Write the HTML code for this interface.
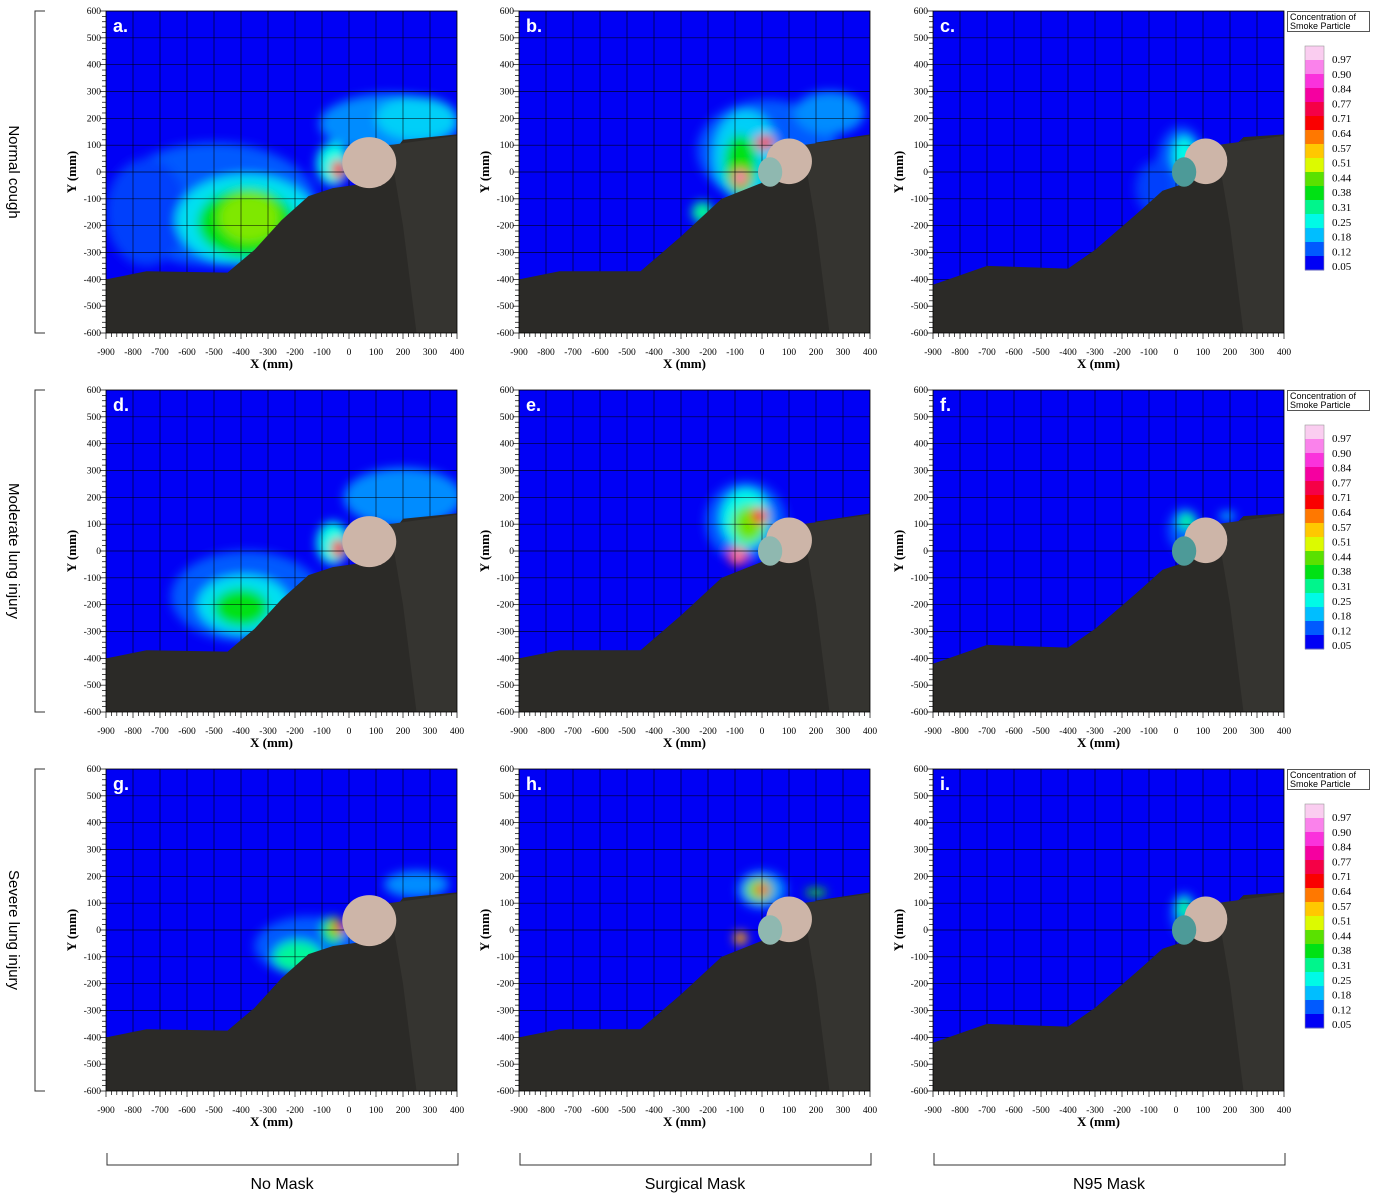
<!DOCTYPE html>
<html><head><meta charset="utf-8"><style>
body{margin:0;background:#fff;width:1377px;height:1199px;overflow:hidden}
svg{display:block}
</style></head><body>
<svg id="fig" width="1377" height="1199" xmlns="http://www.w3.org/2000/svg">
<defs>
<filter id="blur" x="-50%" y="-50%" width="200%" height="200%"><feGaussianBlur stdDeviation="5"/></filter>
</defs>
</svg>
<script>
// ---- data ----
const xTicks=[-900,-800,-700,-600,-500,-400,-300,-200,-100,0,100,200,300,400];
const yTicks=[-600,-500,-400,-300,-200,-100,0,100,200,300,400,500,600];
const cbLabels=["0.97","0.90","0.84","0.77","0.71","0.64","0.57","0.51","0.44","0.38","0.31","0.25","0.18","0.12","0.05"];
const rowLabels=["Normal cough","Moderate lung injury","Severe lung injury"];
const colLabels=["No Mask","Surgical Mask","N95 Mask"];
const panelLetters=["a.","b.","c.","d.","e.","f.","g.","h.","i."];
// plume blobs per panel: [x mm, y mm, rx mm, ry mm, concentration]
const plumeA=[[-500,-120,380,230,0.12],[-750,-150,150,200,0.1],[150,180,260,110,0.15],[-380,-180,260,170,0.22],[250,200,150,80,0.2],[-380,-190,180,130,0.38],[-370,-170,110,90,0.46],[-60,30,60,80,0.25],[-40,10,25,35,0.75]];
const plumeB=[[20,80,260,190,0.12],[-60,60,120,170,0.2],[250,220,130,80,0.15],[-80,30,60,110,0.38],[-220,-150,40,40,0.3],[-80,-20,30,35,0.75],[10,110,35,25,0.75],[-80,-20,15,18,0.99]];
const plumeC=[[20,20,90,150,0.12],[-80,-60,70,100,0.1],[30,60,40,70,0.25]];
const plumeD=[[-380,-170,280,170,0.12],[200,200,220,110,0.15],[-390,-200,170,110,0.22],[-400,-210,100,70,0.38],[-60,30,60,80,0.25],[-40,10,25,35,0.75]];
const plumeE=[[-60,110,150,150,0.12],[-60,120,90,110,0.25],[-50,100,60,70,0.45],[-10,130,30,30,0.75],[-90,-20,35,35,0.75],[-90,-20,15,15,0.99]];
const plumeF=[[30,80,60,80,0.12],[40,110,30,30,0.3],[190,130,30,15,0.2]];
const plumeG=[[-150,-60,200,110,0.12],[250,170,120,50,0.15],[-190,-100,90,60,0.3],[-60,0,40,50,0.35],[-40,10,20,25,0.7]];
const plumeH=[[0,150,90,70,0.15],[-10,150,50,45,0.45],[0,150,25,22,0.8],[-80,-30,25,25,0.6],[200,140,40,15,0.4]];
const plumeI=[[30,60,50,80,0.12],[30,80,25,40,0.3]];
const plumes=[plumeA,plumeB,plumeC,plumeD,plumeE,plumeF,plumeG,plumeH,plumeI];
// body outlines (mm)
const bodyNoMask=[[-900,-400],[-750,-370],[-450,-375],[-350,-290],[-250,-180],[-150,-90],[-60,-60],[80,-40],[200,120],[400,140],[400,-600],[-900,-600]];
const bodySurgical=[[-900,-400],[-750,-370],[-450,-370],[-300,-240],[-150,-100],[-50,-60],[100,0],[200,110],[400,140],[400,-600],[-900,-600]];
const bodyN95=[[-900,-420],[-700,-350],[-400,-360],[-300,-290],[-150,-160],[-50,-70],[100,-20],[250,130],[400,140],[400,-600],[-900,-600]];
const bodies=[bodyNoMask,bodySurgical,bodyN95];
// head [cx, cy, rx, ry] mm per column
const heads=[[75,35,100,95],[100,40,85,85],[110,40,80,85]];
// ---- layout ----
const colX=[106,519,933], rowY=[11,390,769], PW=351, PH=322;
const NS='http://www.w3.org/2000/svg';
const svg=document.getElementById('fig');
function el(tag,attrs,parent){const e=document.createElementNS(NS,tag);for(const k in attrs)e.setAttribute(k,attrs[k]);(parent||svg).appendChild(e);return e;}
const cmap=[[0.05,[0,0,245]],[0.12,[0,90,255]],[0.18,[0,190,255]],[0.25,[0,250,230]],[0.31,[0,245,140]],[0.38,[0,225,20]],[0.44,[90,225,0]],[0.51,[220,250,0]],[0.57,[255,200,0]],[0.64,[255,120,0]],[0.71,[250,0,0]],[0.77,[245,0,70]],[0.84,[245,0,160]],[0.90,[250,50,220]],[0.97,[250,130,235]],[1.0,[250,205,240]]];
function color(v){for(let i=1;i<cmap.length;i++){if(v<=cmap[i][0]){const a=cmap[i-1],b=cmap[i],t=(v-a[0])/(b[0]-a[0]);const c=a[1].map((q,j)=>Math.round(q+(b[1][j]-q)*t));return `rgb(${c})`;}}return 'rgb(250,205,240)';}
const ser='"Liberation Serif",serif', sans='"Liberation Sans",sans-serif';

for(let r=0;r<3;r++)for(let c=0;c<3;c++){
  const L=colX[c],T=rowY[r],idx=r*3+c;
  const sx=v=>L+(v+900)/1300*PW, sy=v=>T+(600-v)/1200*PH;
  const g=el('g',{});
  
  
  const cid='clip'+idx;
  const cp=el('clipPath',{id:cid},g);el('rect',{x:L,y:T,width:PW,height:PH},cp);
  const bg=el('rect',{x:L,y:T,width:PW,height:PH,fill:'rgb(0,0,245)'},g);
  
  const pg=el('g',{'clip-path':`url(#${cid})`},g);
  const bl=el('g',{filter:'url(#blur)'},pg);
  plumes[idx].forEach(p=>{const e=el('ellipse',{cx:sx(p[0]),cy:sy(p[1]),rx:p[2]/1300*PW,ry:p[3]/1200*PH,fill:color(p[4])},bl);
    });
  xTicks.forEach(v=>el('line',{x1:sx(v),x2:sx(v),y1:T,y2:T+PH,stroke:'#000','stroke-width':0.7,opacity:0.8},pg));
  yTicks.forEach(v=>el('line',{x1:L,x2:L+PW,y1:sy(v),y2:sy(v),stroke:'#000','stroke-width':0.7,opacity:0.8},pg));
  const b=el('polygon',{points:bodies[c].map(p=>sx(p[0])+','+sy(p[1])).join(' '),fill:'#2b2a27'},pg);
  
  el('polygon',{points:[[150,100],[400,135],[400,-600],[250,-600],[200,-200]].map(p=>sx(p[0])+','+sy(p[1])).join(' '),fill:'#353430'},pg);
  const hd=heads[c];
  const h=el('ellipse',{cx:sx(hd[0]),cy:sy(hd[1]),rx:hd[2]/1300*PW,ry:hd[3]/1200*PH,fill:'#cdb5a8'},pg);
  
  if(c>0){const m=el('ellipse',{cx:sx(30),cy:sy(0),rx:45/1300*PW,ry:55/1200*PH,fill:c==1?'#8fb8b0':'#4d9a98'},pg);
    }
  el('rect',{x:L,y:T,width:PW,height:PH,fill:'none',stroke:'#000','stroke-width':0.8},g);
  for(let v=-900;v<=400;v+=20){const mj=v%100===0;el('line',{x1:sx(v),x2:sx(v),y1:T+PH,y2:T+PH+(mj?6:4),stroke:'#000','stroke-width':0.7},g);}
  for(let v=-600;v<=600;v+=20){const mj=v%100===0;el('line',{x1:L,x2:L-(mj?6:4),y1:sy(v),y2:sy(v),stroke:'#000','stroke-width':0.7},g);}
  xTicks.forEach(v=>{const t=el('text',{x:sx(v),y:T+PH+22,'font-family':ser,'font-size':9.5,'text-anchor':'middle'},g);t.textContent=v;
    });
  yTicks.forEach(v=>{const t=el('text',{x:L-5,y:sy(v)+3,'font-family':ser,'font-size':9.5,'text-anchor':'end'},g);t.textContent=v;
    });
  const xt=el('text',{x:L+PW/2-10,y:T+PH+35,'font-family':ser,'font-size':13,'font-weight':'bold','text-anchor':'middle'},g);xt.textContent='X (mm)';
  
  const yt=el('text',{x:0,y:0,transform:`translate(${L-30},${T+PH/2}) rotate(-90)`,'font-family':ser,'font-size':13,'font-weight':'bold','text-anchor':'middle'},g);yt.textContent='Y (mm)';
  
  const lt=el('text',{x:L+7,y:T+21,'font-family':sans,'font-size':18,'font-weight':'bold',fill:'#fff'},g);lt.textContent=panelLetters[idx];
  
}
for(let r=0;r<3;r++){
  const T=rowY[r];
  const g=el('g',{});
  el('rect',{x:1287.5,y:T+0.5,width:82,height:20,fill:'#fff',stroke:'#555','stroke-width':1},g);
  const t1=el('text',{x:1290,y:T+9,'font-family':sans,'font-size':9},g);t1.textContent='Concentration of';
  const t2=el('text',{x:1290,y:T+18,'font-family':sans,'font-size':9},g);t2.textContent='Smoke Particle';
  const top=T+35,h=224,n=cbLabels.length+1,sh=h/n;
  for(let i=0;i<n;i++){const v=i==0?1.0:parseFloat(cbLabels[i-1]);
    const s=el('rect',{x:1305,y:top+i*sh,width:19,height:sh+0.5,fill:color(v)},g);
    }
  el('rect',{x:1305,y:top,width:19,height:h,fill:'none',stroke:'#999','stroke-width':0.6},g);
  cbLabels.forEach((lab,i)=>{const t=el('text',{x:1332,y:T+52+i*14.8,'font-family':ser,'font-size':11},g);t.textContent=lab;
    });
}
rowLabels.forEach((lab,r)=>{const T=rowY[r];
  el('path',{d:`M45 ${T} H35 V${T+PH} H45`,fill:'none',stroke:'#333','stroke-width':1});
  const t=el('text',{x:0,y:0,transform:`translate(9,${T+PH/2}) rotate(90)`,'font-family':sans,'font-size':15,'text-anchor':'middle'});t.textContent=lab;
  });
colLabels.forEach((lab,c)=>{const L=colX[c]+1;
  el('path',{d:`M${L} 1153 V1165 H${L+351} V1153`,fill:'none',stroke:'#333','stroke-width':1});
  const t=el('text',{x:L+175,y:1189,'font-family':sans,'font-size':16,'text-anchor':'middle'});t.textContent=lab;
  });
</script>
</body></html>
